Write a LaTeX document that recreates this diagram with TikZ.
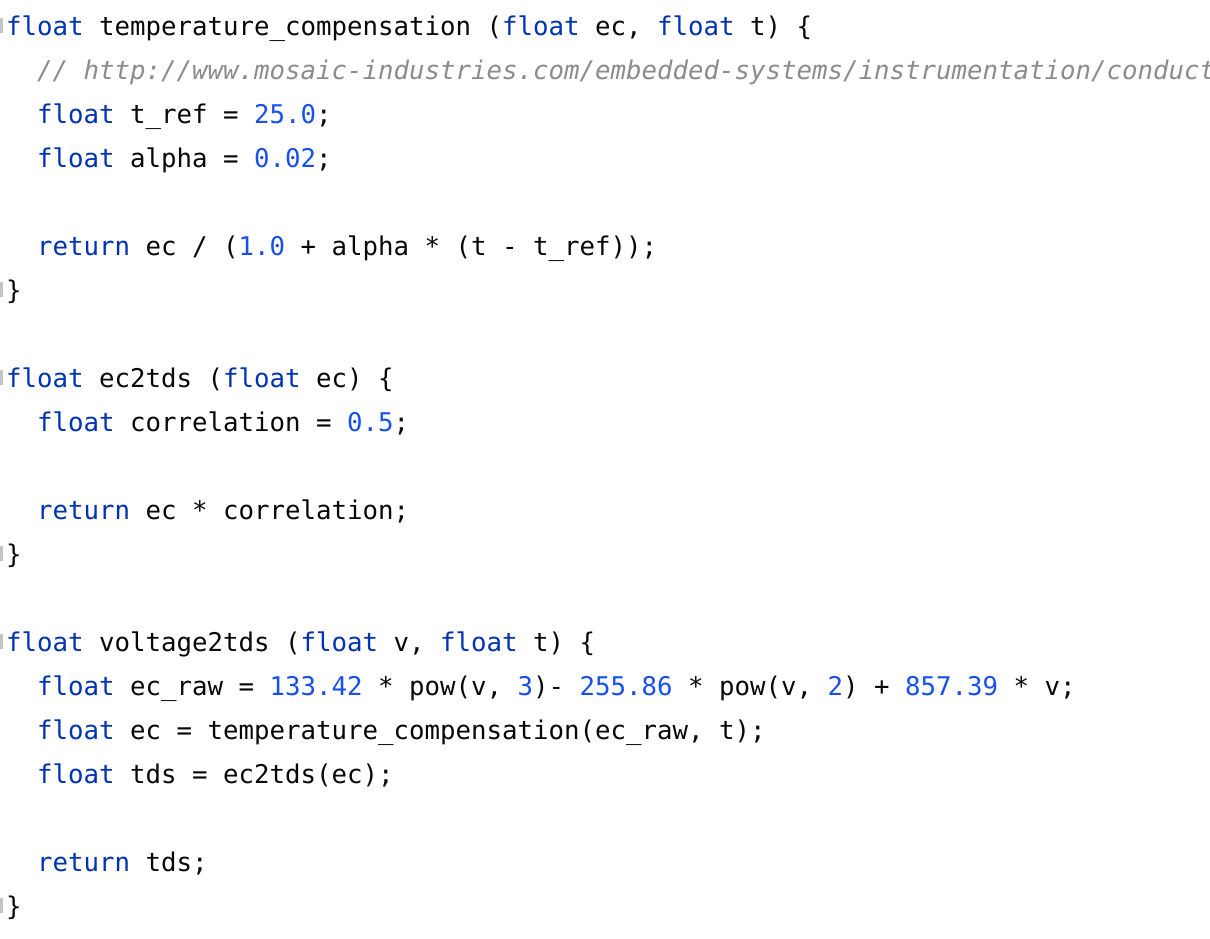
\documentclass[tikz,border=0pt]{standalone}
\usepackage{fontspec}
\newfontfamily\codefont{DejaVu Sans Mono}
\newfontfamily\commentfont{DejaVu Sans Mono Oblique}
\definecolor{kw}{HTML}{0033B3}
\definecolor{num}{HTML}{1750EB}
\definecolor{cmt}{HTML}{8C8C8C}
\definecolor{txt}{HTML}{080808}
\definecolor{gut}{HTML}{C4C4C4}
\newcommand{\K}[1]{\textcolor{kw}{#1}}
\newcommand{\N}[1]{\textcolor{num}{#1}}
\tikzset{
  codeline/.style={anchor=base west, inner sep=0pt, outer sep=0pt, text=txt,
    font=\codefont\fontsize{25.75pt}{44pt}\selectfont},
  cmtline/.style={codeline, text=cmt, font=\commentfont\fontsize{25.75pt}{44pt}\selectfont},
  gutmark/.style={fill=gut, draw=none}
}
\begin{document}
\begin{tikzpicture}[x=1pt,y=1pt]
\useasboundingbox (0,0) rectangle (1210,-938);
\fill[white] (0,0) rectangle (1210,-938);
\clip (0,0) rectangle (1210,-938);
% gutter marks
\foreach \n in {1,7,9,13,15,21}{
  \fill[gutmark] (0,{-18-44*(\n-1)}) rectangle (3,{-33-44*(\n-1)});
}
\node[codeline] (l1) at (6,-35) {\K{float} temperature\_compensation (\K{float} ec, \K{float} t) \{};
\node[cmtline] (l2) at (37,-79) {// http://www.mosaic-industries.com/embedded-systems/instrumentation/conductivity};
\node[codeline] (l3) at (37,-123) {\K{float} t\_ref = \N{25.0};};
\node[codeline] (l4) at (37,-167) {\K{float} alpha = \N{0.02};};
\node[codeline] (l6) at (37,-255) {\K{return} ec / (\N{1.0} + alpha * (t - t\_ref));};
\node[codeline] (l7) at (6,-299) {\}};
\node[codeline] (l9) at (6,-387) {\K{float} ec2tds (\K{float} ec) \{};
\node[codeline] (l10) at (37,-431) {\K{float} correlation = \N{0.5};};
\node[codeline] (l12) at (37,-519) {\K{return} ec * correlation;};
\node[codeline] (l13) at (6,-563) {\}};
\node[codeline] (l15) at (6,-651) {\K{float} voltage2tds (\K{float} v, \K{float} t) \{};
\node[codeline] (l16) at (37,-695) {\K{float} ec\_raw = \N{133.42} * pow(v, \N{3})- \N{255.86} * pow(v, \N{2}) + \N{857.39} * v;};
\node[codeline] (l17) at (37,-739) {\K{float} ec = temperature\_compensation(ec\_raw, t);};
\node[codeline] (l18) at (37,-783) {\K{float} tds = ec2tds(ec);};
\node[codeline] (l20) at (37,-871) {\K{return} tds;};
\node[codeline] (l21) at (6,-915) {\}};
\end{tikzpicture}
\end{document}
